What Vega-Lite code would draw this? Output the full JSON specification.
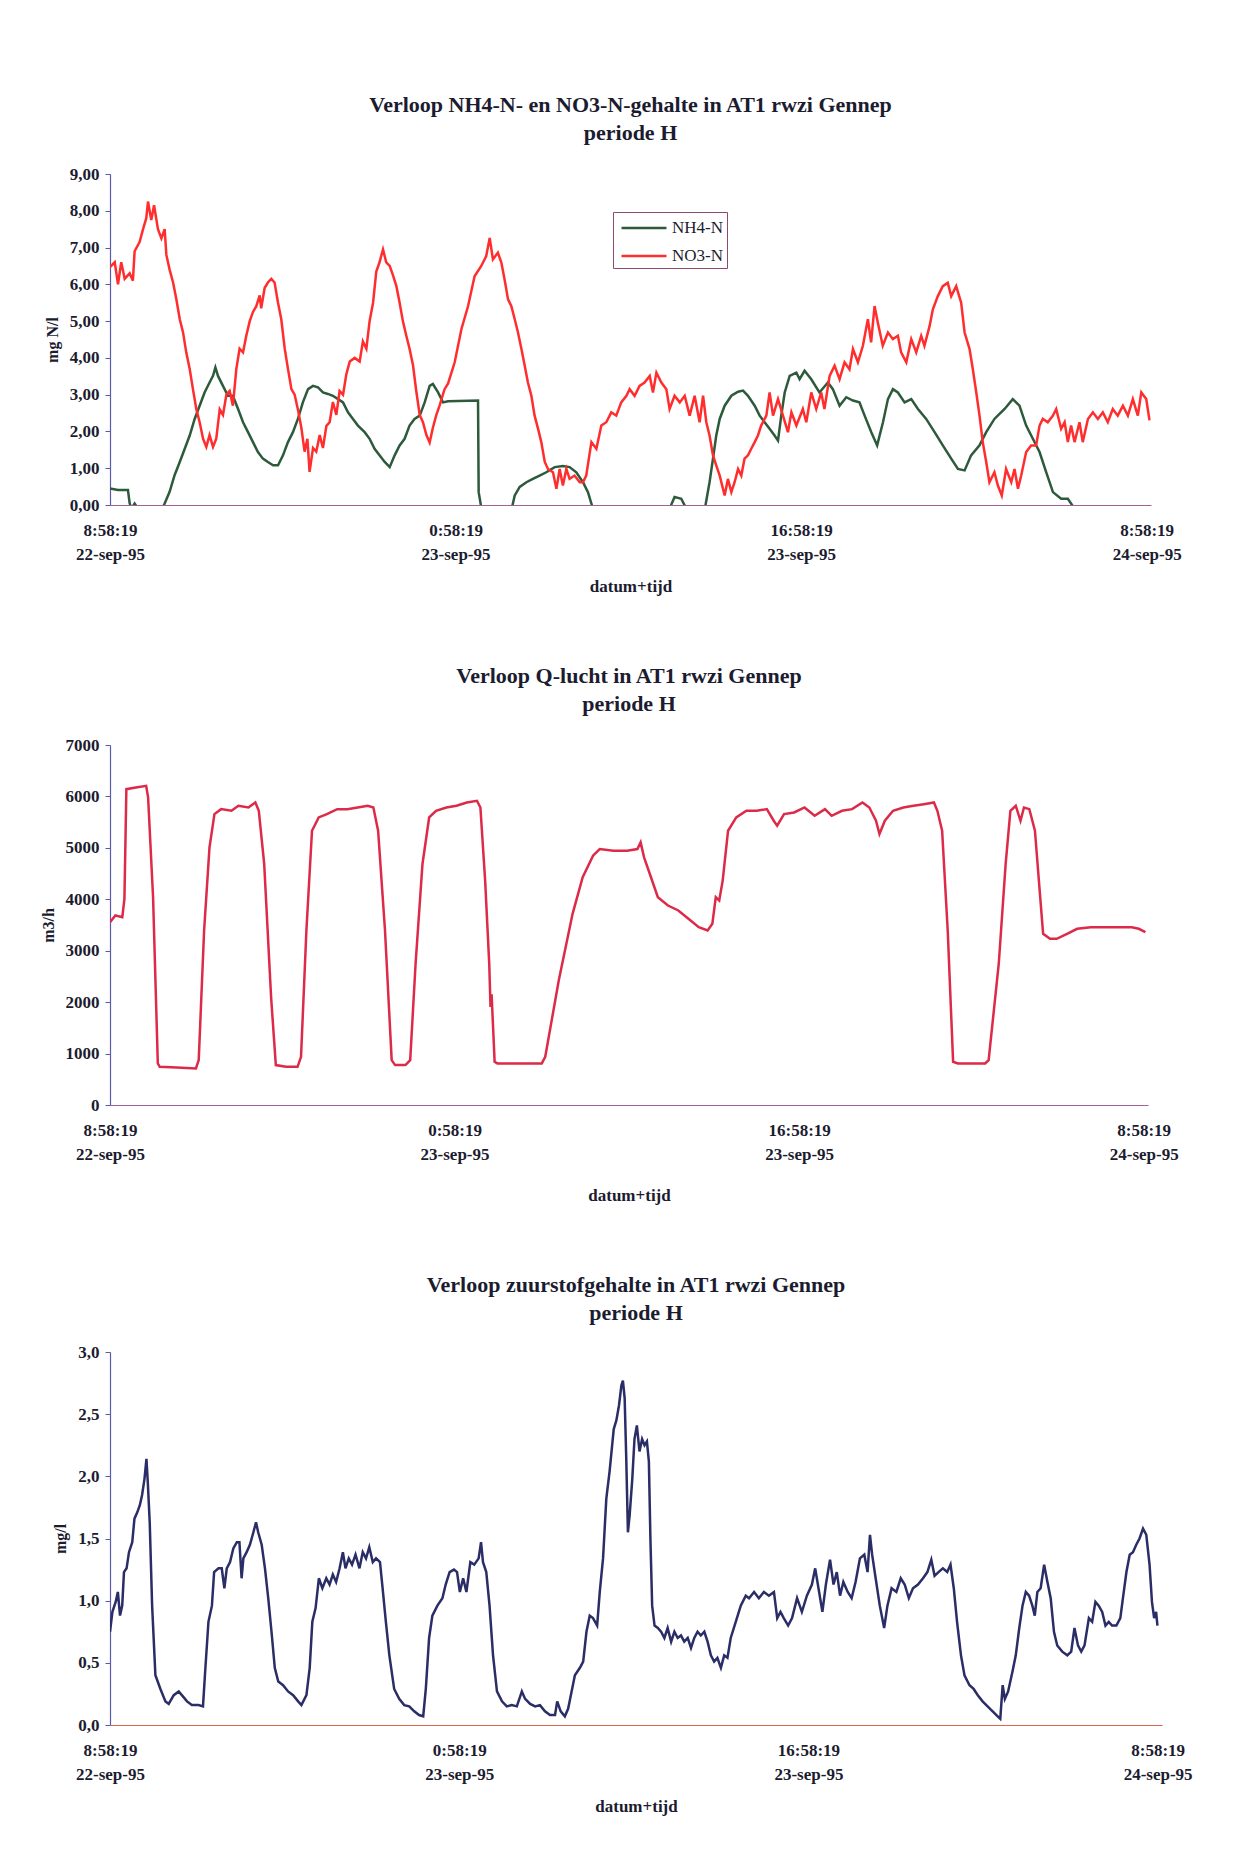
{
  "$schema": "https://vega.github.io/schema/vega-lite/v6.json",
  "background": "white",
  "padding": {"left": 40, "top": 94, "right": 10, "bottom": 10},
  "spacing": 71,
  "config": {
    "font": "Liberation Serif",
    "view": {"stroke": null},
    "axis": {
      "grid": false,
      "labelFont": "Liberation Serif",
      "labelFontWeight": "bold",
      "labelFontSize": 17,
      "labelColor": "#1c1c30",
      "labelOverlap": false,
      "titleFont": "Liberation Serif",
      "titleFontWeight": "bold",
      "titleColor": "#1c1c30",
      "domainColor": "#5a5aa8",
      "tickColor": "#5a5aa8",
      "domainWidth": 1.2
    },
    "axisX": {
      "ticks": false,
      "labelPadding": 17,
      "labelLineHeight": 24,
      "labelFlush": false,
      "titleFontSize": 17,
      "titlePadding": 16,
      "domainColor": "#a0609a"
    },
    "axisY": {
      "tickSize": 5,
      "labelPadding": 6,
      "labelOverlap": false,
      "titleFontSize": 16,
      "titlePadding": 9
    },
    "title": {
      "font": "Liberation Serif",
      "fontSize": 22,
      "fontWeight": "bold",
      "color": "#1c1c30",
      "lineHeight": 28,
      "anchor": "middle",
      "offset": 20
    }
  },
  "datasets": {
    "nh4": [
      {"t":0,"v":0.45},{"t":0.37,"v":0.41},{"t":0.83,"v":0.41},{"t":0.91,"v":0.05},{"t":0.99,"v":-0.1},{"t":1.14,"v":0.04},{"t":1.3,"v":-0.1},{"t":1.4,"v":-0.5},{"t":2.3,"v":-0.5},{"t":2.38,"v":-0.15},{"t":2.53,"v":0.04},{"t":2.76,"v":0.36},{"t":2.99,"v":0.81},{"t":3.23,"v":1.17},{"t":3.46,"v":1.53},{"t":3.69,"v":1.89},{"t":3.92,"v":2.34},{"t":4.15,"v":2.7},{"t":4.38,"v":3.06},{"t":4.61,"v":3.33},{"t":4.77,"v":3.51},{"t":4.88,"v":3.74},{"t":5.0,"v":3.51},{"t":5.23,"v":3.24},{"t":5.46,"v":2.97},{"t":5.69,"v":2.97},{"t":5.93,"v":2.61},{"t":6.16,"v":2.25},{"t":6.39,"v":1.98},{"t":6.62,"v":1.71},{"t":6.85,"v":1.44},{"t":7.08,"v":1.26},{"t":7.31,"v":1.17},{"t":7.55,"v":1.08},{"t":7.78,"v":1.08},{"t":8.01,"v":1.35},{"t":8.24,"v":1.71},{"t":8.47,"v":1.98},{"t":8.7,"v":2.34},{"t":8.93,"v":2.79},{"t":9.17,"v":3.15},{"t":9.4,"v":3.24},{"t":9.63,"v":3.2},{"t":9.86,"v":3.06},{"t":10.09,"v":3.02},{"t":10.32,"v":2.97},{"t":10.56,"v":2.88},{"t":10.79,"v":2.79},{"t":11.02,"v":2.52},{"t":11.25,"v":2.34},{"t":11.48,"v":2.16},{"t":11.79,"v":1.98},{"t":12.02,"v":1.8},{"t":12.25,"v":1.53},{"t":12.48,"v":1.35},{"t":12.72,"v":1.17},{"t":12.95,"v":1.03},{"t":13.18,"v":1.35},{"t":13.41,"v":1.62},{"t":13.64,"v":1.8},{"t":13.87,"v":2.16},{"t":14.1,"v":2.34},{"t":14.34,"v":2.43},{"t":14.57,"v":2.79},{"t":14.8,"v":3.24},{"t":14.95,"v":3.29},{"t":15.19,"v":3.06},{"t":15.42,"v":2.79},{"t":15.65,"v":2.82},{"t":17.04,"v":2.84},{"t":17.07,"v":0.35},{"t":17.2,"v":-0.1},{"t":17.3,"v":-0.5},{"t":18.5,"v":-0.5},{"t":18.58,"v":-0.15},{"t":18.74,"v":0.26},{"t":18.97,"v":0.49},{"t":19.28,"v":0.62},{"t":19.58,"v":0.71},{"t":19.89,"v":0.8},{"t":20.2,"v":0.89},{"t":20.59,"v":1.03},{"t":20.97,"v":1.06},{"t":21.28,"v":1.03},{"t":21.59,"v":0.89},{"t":21.9,"v":0.62},{"t":22.13,"v":0.35},{"t":22.36,"v":-0.1},{"t":22.45,"v":-0.5},{"t":25.85,"v":-0.5},{"t":25.91,"v":-0.1},{"t":26.14,"v":0.22},{"t":26.45,"v":0.17},{"t":26.73,"v":-0.15},{"t":26.8,"v":-0.5},{"t":27.45,"v":-0.5},{"t":27.53,"v":-0.15},{"t":27.76,"v":0.62},{"t":27.92,"v":1.26},{"t":28.07,"v":1.89},{"t":28.23,"v":2.34},{"t":28.46,"v":2.7},{"t":28.77,"v":2.97},{"t":29.08,"v":3.08},{"t":29.31,"v":3.11},{"t":29.54,"v":2.97},{"t":29.85,"v":2.7},{"t":30.08,"v":2.43},{"t":30.31,"v":2.25},{"t":30.54,"v":2.07},{"t":30.77,"v":1.89},{"t":30.93,"v":1.75},{"t":31.08,"v":2.43},{"t":31.24,"v":3.06},{"t":31.47,"v":3.51},{"t":31.78,"v":3.6},{"t":31.93,"v":3.42},{"t":32.16,"v":3.65},{"t":32.47,"v":3.42},{"t":32.85,"v":3.06},{"t":33.24,"v":3.33},{"t":33.47,"v":3.15},{"t":33.78,"v":2.7},{"t":34.09,"v":2.93},{"t":34.4,"v":2.84},{"t":34.7,"v":2.79},{"t":34.94,"v":2.43},{"t":35.25,"v":1.98},{"t":35.52,"v":1.62},{"t":35.79,"v":2.25},{"t":36.02,"v":2.88},{"t":36.25,"v":3.15},{"t":36.48,"v":3.06},{"t":36.79,"v":2.79},{"t":37.1,"v":2.88},{"t":37.41,"v":2.61},{"t":37.79,"v":2.34},{"t":38.18,"v":1.98},{"t":38.56,"v":1.62},{"t":38.95,"v":1.26},{"t":39.26,"v":0.98},{"t":39.57,"v":0.94},{"t":39.87,"v":1.35},{"t":40.26,"v":1.62},{"t":40.57,"v":1.98},{"t":40.95,"v":2.34},{"t":41.42,"v":2.61},{"t":41.8,"v":2.88},{"t":42.11,"v":2.7},{"t":42.42,"v":2.16},{"t":42.73,"v":1.8},{"t":43.04,"v":1.44},{"t":43.35,"v":0.89},{"t":43.66,"v":0.35},{"t":44.04,"v":0.17},{"t":44.35,"v":0.17},{"t":44.66,"v":-0.1}
    ],
    "no3": [
      {"t":0,"v":6.47},{"t":0.22,"v":6.6},{"t":0.37,"v":6.0},{"t":0.52,"v":6.6},{"t":0.68,"v":6.15},{"t":0.91,"v":6.3},{"t":1.06,"v":6.1},{"t":1.14,"v":6.9},{"t":1.37,"v":7.15},{"t":1.53,"v":7.5},{"t":1.68,"v":7.8},{"t":1.76,"v":8.25},{"t":1.91,"v":7.75},{"t":2.04,"v":8.15},{"t":2.22,"v":7.5},{"t":2.38,"v":7.25},{"t":2.53,"v":7.5},{"t":2.61,"v":6.8},{"t":2.76,"v":6.4},{"t":2.92,"v":6.05},{"t":3.07,"v":5.6},{"t":3.23,"v":5.05},{"t":3.38,"v":4.7},{"t":3.53,"v":4.15},{"t":3.69,"v":3.7},{"t":3.84,"v":3.15},{"t":4.0,"v":2.6},{"t":4.15,"v":2.25},{"t":4.31,"v":1.8},{"t":4.46,"v":1.58},{"t":4.61,"v":1.9},{"t":4.77,"v":1.58},{"t":4.92,"v":1.8},{"t":5.08,"v":2.6},{"t":5.23,"v":2.45},{"t":5.39,"v":3.0},{"t":5.54,"v":3.1},{"t":5.69,"v":2.7},{"t":5.85,"v":3.7},{"t":6.0,"v":4.25},{"t":6.16,"v":4.15},{"t":6.31,"v":4.6},{"t":6.47,"v":5.0},{"t":6.62,"v":5.25},{"t":6.77,"v":5.4},{"t":6.93,"v":5.7},{"t":7.0,"v":5.35},{"t":7.16,"v":5.9},{"t":7.31,"v":6.05},{"t":7.47,"v":6.15},{"t":7.62,"v":6.05},{"t":7.78,"v":5.5},{"t":7.93,"v":5.05},{"t":8.09,"v":4.25},{"t":8.24,"v":3.7},{"t":8.4,"v":3.15},{"t":8.55,"v":3.0},{"t":8.7,"v":2.6},{"t":8.86,"v":2.1},{"t":9.01,"v":1.45},{"t":9.14,"v":1.8},{"t":9.24,"v":0.9},{"t":9.4,"v":1.55},{"t":9.55,"v":1.45},{"t":9.71,"v":1.9},{"t":9.86,"v":1.55},{"t":10.02,"v":2.15},{"t":10.17,"v":2.25},{"t":10.32,"v":2.8},{"t":10.48,"v":2.45},{"t":10.63,"v":3.1},{"t":10.79,"v":3.0},{"t":10.94,"v":3.55},{"t":11.1,"v":3.9},{"t":11.33,"v":4.0},{"t":11.56,"v":3.9},{"t":11.71,"v":4.45},{"t":11.87,"v":4.25},{"t":12.02,"v":5.0},{"t":12.18,"v":5.5},{"t":12.33,"v":6.35},{"t":12.48,"v":6.6},{"t":12.64,"v":6.95},{"t":12.79,"v":6.6},{"t":12.95,"v":6.5},{"t":13.1,"v":6.25},{"t":13.26,"v":5.95},{"t":13.41,"v":5.5},{"t":13.56,"v":5.0},{"t":13.72,"v":4.6},{"t":13.87,"v":4.25},{"t":14.03,"v":3.8},{"t":14.18,"v":3.1},{"t":14.34,"v":2.45},{"t":14.49,"v":2.25},{"t":14.65,"v":1.9},{"t":14.8,"v":1.7},{"t":14.95,"v":2.1},{"t":15.11,"v":2.45},{"t":15.26,"v":2.7},{"t":15.49,"v":3.15},{"t":15.65,"v":3.3},{"t":15.96,"v":3.88},{"t":16.27,"v":4.78},{"t":16.58,"v":5.41},{"t":16.88,"v":6.22},{"t":17.19,"v":6.5},{"t":17.42,"v":6.77},{"t":17.58,"v":7.26},{"t":17.73,"v":6.68},{"t":17.96,"v":6.86},{"t":18.12,"v":6.59},{"t":18.27,"v":6.13},{"t":18.43,"v":5.59},{"t":18.58,"v":5.41},{"t":18.74,"v":5.05},{"t":18.89,"v":4.69},{"t":19.05,"v":4.24},{"t":19.2,"v":3.79},{"t":19.35,"v":3.33},{"t":19.51,"v":2.97},{"t":19.66,"v":2.43},{"t":19.82,"v":2.07},{"t":19.97,"v":1.71},{"t":20.13,"v":1.17},{"t":20.28,"v":0.98},{"t":20.51,"v":0.89},{"t":20.67,"v":0.44},{"t":20.82,"v":0.98},{"t":20.97,"v":0.53},{"t":21.13,"v":0.98},{"t":21.28,"v":0.71},{"t":21.51,"v":0.8},{"t":21.75,"v":0.62},{"t":21.9,"v":0.62},{"t":22.05,"v":0.8},{"t":22.29,"v":1.71},{"t":22.52,"v":1.53},{"t":22.75,"v":2.16},{"t":22.98,"v":2.25},{"t":23.21,"v":2.52},{"t":23.44,"v":2.43},{"t":23.67,"v":2.79},{"t":23.91,"v":2.97},{"t":24.06,"v":3.15},{"t":24.29,"v":2.97},{"t":24.52,"v":3.24},{"t":24.75,"v":3.33},{"t":24.99,"v":3.51},{"t":25.14,"v":3.06},{"t":25.3,"v":3.6},{"t":25.53,"v":3.33},{"t":25.76,"v":3.15},{"t":25.91,"v":2.61},{"t":26.14,"v":2.97},{"t":26.38,"v":2.79},{"t":26.61,"v":2.97},{"t":26.84,"v":2.43},{"t":27.07,"v":2.97},{"t":27.3,"v":2.25},{"t":27.46,"v":2.97},{"t":27.61,"v":2.25},{"t":27.76,"v":1.89},{"t":27.92,"v":1.35},{"t":28.07,"v":1.08},{"t":28.23,"v":0.8},{"t":28.46,"v":0.26},{"t":28.61,"v":0.71},{"t":28.77,"v":0.35},{"t":28.92,"v":0.62},{"t":29.08,"v":0.98},{"t":29.23,"v":0.8},{"t":29.38,"v":1.26},{"t":29.54,"v":1.35},{"t":29.69,"v":1.53},{"t":29.85,"v":1.71},{"t":30.0,"v":1.89},{"t":30.15,"v":2.16},{"t":30.39,"v":2.43},{"t":30.54,"v":3.06},{"t":30.7,"v":2.43},{"t":30.93,"v":2.88},{"t":31.16,"v":2.43},{"t":31.39,"v":1.98},{"t":31.55,"v":2.52},{"t":31.78,"v":2.16},{"t":32.08,"v":2.61},{"t":32.24,"v":2.25},{"t":32.47,"v":3.06},{"t":32.7,"v":2.61},{"t":32.93,"v":3.06},{"t":33.08,"v":2.61},{"t":33.32,"v":3.51},{"t":33.55,"v":3.79},{"t":33.78,"v":3.42},{"t":34.01,"v":3.88},{"t":34.24,"v":3.69},{"t":34.4,"v":4.24},{"t":34.63,"v":3.88},{"t":34.86,"v":4.33},{"t":35.09,"v":5.05},{"t":35.24,"v":4.42},{"t":35.4,"v":5.41},{"t":35.55,"v":4.96},{"t":35.78,"v":4.33},{"t":36.02,"v":4.69},{"t":36.25,"v":4.51},{"t":36.48,"v":4.6},{"t":36.63,"v":4.15},{"t":36.87,"v":3.88},{"t":37.1,"v":4.51},{"t":37.33,"v":4.15},{"t":37.56,"v":4.6},{"t":37.71,"v":4.33},{"t":37.95,"v":4.87},{"t":38.1,"v":5.32},{"t":38.33,"v":5.68},{"t":38.56,"v":5.95},{"t":38.79,"v":6.04},{"t":38.95,"v":5.68},{"t":39.18,"v":5.95},{"t":39.41,"v":5.5},{"t":39.57,"v":4.69},{"t":39.8,"v":4.24},{"t":39.95,"v":3.69},{"t":40.11,"v":3.06},{"t":40.26,"v":2.43},{"t":40.41,"v":1.71},{"t":40.57,"v":1.17},{"t":40.72,"v":0.62},{"t":40.95,"v":0.89},{"t":41.11,"v":0.53},{"t":41.29,"v":0.26},{"t":41.49,"v":0.98},{"t":41.73,"v":0.62},{"t":41.88,"v":0.98},{"t":42.04,"v":0.44},{"t":42.19,"v":0.8},{"t":42.42,"v":1.44},{"t":42.65,"v":1.62},{"t":42.88,"v":1.62},{"t":43.04,"v":2.16},{"t":43.19,"v":2.34},{"t":43.42,"v":2.25},{"t":43.66,"v":2.43},{"t":43.81,"v":2.61},{"t":44.04,"v":2.07},{"t":44.2,"v":2.25},{"t":44.35,"v":1.71},{"t":44.5,"v":2.16},{"t":44.66,"v":1.71},{"t":44.89,"v":2.25},{"t":45.04,"v":1.71},{"t":45.28,"v":2.34},{"t":45.51,"v":2.52},{"t":45.74,"v":2.34},{"t":45.97,"v":2.52},{"t":46.2,"v":2.25},{"t":46.43,"v":2.61},{"t":46.66,"v":2.43},{"t":46.9,"v":2.7},{"t":47.13,"v":2.43},{"t":47.36,"v":2.88},{"t":47.59,"v":2.43},{"t":47.75,"v":3.06},{"t":47.98,"v":2.88},{"t":48.13,"v":2.3}
    ],
    "qlucht": [
      {"t":0,"v":3555},{"t":0.25,"v":3685},{"t":0.57,"v":3650},{"t":0.67,"v":4008},{"t":0.76,"v":6141},{"t":1.2,"v":6173},{"t":1.68,"v":6206},{"t":1.77,"v":5979},{"t":2.0,"v":4040},{"t":2.22,"v":808},{"t":2.31,"v":743},{"t":3.1,"v":730},{"t":3.99,"v":711},{"t":4.12,"v":873},{"t":4.37,"v":3394},{"t":4.62,"v":5010},{"t":4.85,"v":5656},{"t":5.16,"v":5753},{"t":5.64,"v":5721},{"t":5.96,"v":5818},{"t":6.43,"v":5785},{"t":6.75,"v":5882},{"t":6.91,"v":5721},{"t":7.16,"v":4687},{"t":7.48,"v":2101},{"t":7.7,"v":776},{"t":8.17,"v":743},{"t":8.71,"v":743},{"t":8.87,"v":937},{"t":9.12,"v":3394},{"t":9.38,"v":5333},{"t":9.69,"v":5591},{"t":10.07,"v":5656},{"t":10.55,"v":5753},{"t":11.02,"v":5753},{"t":11.5,"v":5785},{"t":11.97,"v":5818},{"t":12.23,"v":5785},{"t":12.45,"v":5333},{"t":12.77,"v":3394},{"t":13.08,"v":873},{"t":13.24,"v":776},{"t":13.72,"v":776},{"t":13.94,"v":873},{"t":14.19,"v":2747},{"t":14.51,"v":4687},{"t":14.82,"v":5591},{"t":15.14,"v":5721},{"t":15.62,"v":5785},{"t":16.09,"v":5818},{"t":16.57,"v":5882},{"t":17.04,"v":5915},{"t":17.2,"v":5785},{"t":17.42,"v":4363},{"t":17.61,"v":2747},{"t":17.67,"v":1907},{"t":17.72,"v":2150},{"t":17.86,"v":840},{"t":17.99,"v":808},{"t":18.94,"v":808},{"t":20.05,"v":808},{"t":20.21,"v":937},{"t":20.84,"v":2424},{"t":21.48,"v":3717},{"t":21.95,"v":4428},{"t":22.43,"v":4848},{"t":22.74,"v":4977},{"t":23.38,"v":4945},{"t":24.01,"v":4945},{"t":24.49,"v":4977},{"t":24.64,"v":5107},{"t":24.8,"v":4816},{"t":25.12,"v":4428},{"t":25.44,"v":4040},{"t":25.91,"v":3879},{"t":26.39,"v":3782},{"t":26.86,"v":3620},{"t":27.34,"v":3458},{"t":27.75,"v":3394},{"t":27.97,"v":3523},{"t":28.13,"v":4040},{"t":28.29,"v":3975},{"t":28.45,"v":4363},{"t":28.7,"v":5333},{"t":29.08,"v":5591},{"t":29.55,"v":5721},{"t":30.03,"v":5721},{"t":30.5,"v":5753},{"t":30.82,"v":5527},{"t":30.98,"v":5430},{"t":31.3,"v":5656},{"t":31.77,"v":5688},{"t":32.25,"v":5785},{"t":32.72,"v":5624},{"t":33.2,"v":5753},{"t":33.51,"v":5624},{"t":33.99,"v":5721},{"t":34.46,"v":5753},{"t":34.94,"v":5882},{"t":35.26,"v":5785},{"t":35.57,"v":5527},{"t":35.73,"v":5268},{"t":35.98,"v":5527},{"t":36.36,"v":5721},{"t":36.84,"v":5785},{"t":37.31,"v":5818},{"t":37.79,"v":5850},{"t":38.26,"v":5882},{"t":38.42,"v":5721},{"t":38.64,"v":5333},{"t":38.9,"v":3394},{"t":39.15,"v":840},{"t":39.37,"v":808},{"t":40.01,"v":808},{"t":40.64,"v":808},{"t":40.8,"v":873},{"t":41.27,"v":2747},{"t":41.59,"v":4687},{"t":41.81,"v":5721},{"t":42.06,"v":5818},{"t":42.28,"v":5527},{"t":42.44,"v":5785},{"t":42.69,"v":5753},{"t":42.95,"v":5333},{"t":43.17,"v":4169},{"t":43.33,"v":3329},{"t":43.65,"v":3232},{"t":43.96,"v":3232},{"t":44.44,"v":3329},{"t":44.91,"v":3426},{"t":45.54,"v":3458},{"t":46.18,"v":3458},{"t":46.81,"v":3458},{"t":47.45,"v":3458},{"t":47.77,"v":3426},{"t":48.08,"v":3361}
    ],
    "zuurstof": [
      {"t":0,"v":0.75},{"t":0.11,"v":0.91},{"t":0.26,"v":0.99},{"t":0.36,"v":1.07},{"t":0.46,"v":0.88},{"t":0.56,"v":0.96},{"t":0.64,"v":1.23},{"t":0.76,"v":1.26},{"t":0.87,"v":1.39},{"t":1.02,"v":1.47},{"t":1.12,"v":1.66},{"t":1.25,"v":1.71},{"t":1.37,"v":1.77},{"t":1.47,"v":1.85},{"t":1.58,"v":1.98},{"t":1.67,"v":2.14},{"t":1.73,"v":1.96},{"t":1.82,"v":1.63},{"t":1.93,"v":0.96},{"t":2.08,"v":0.4},{"t":2.31,"v":0.29},{"t":2.54,"v":0.19},{"t":2.69,"v":0.17},{"t":2.92,"v":0.24},{"t":3.15,"v":0.27},{"t":3.34,"v":0.23},{"t":3.53,"v":0.19},{"t":3.75,"v":0.16},{"t":4.06,"v":0.16},{"t":4.26,"v":0.15},{"t":4.36,"v":0.43},{"t":4.51,"v":0.83},{"t":4.67,"v":0.96},{"t":4.77,"v":1.23},{"t":4.97,"v":1.26},{"t":5.12,"v":1.26},{"t":5.24,"v":1.1},{"t":5.35,"v":1.26},{"t":5.5,"v":1.31},{"t":5.65,"v":1.42},{"t":5.81,"v":1.47},{"t":5.93,"v":1.47},{"t":6.03,"v":1.18},{"t":6.11,"v":1.34},{"t":6.26,"v":1.39},{"t":6.41,"v":1.45},{"t":6.57,"v":1.55},{"t":6.69,"v":1.63},{"t":6.79,"v":1.55},{"t":6.95,"v":1.45},{"t":7.1,"v":1.26},{"t":7.25,"v":1.02},{"t":7.4,"v":0.75},{"t":7.55,"v":0.46},{"t":7.71,"v":0.35},{"t":7.93,"v":0.32},{"t":8.16,"v":0.27},{"t":8.39,"v":0.24},{"t":8.62,"v":0.19},{"t":8.77,"v":0.16},{"t":9.0,"v":0.24},{"t":9.15,"v":0.46},{"t":9.27,"v":0.83},{"t":9.42,"v":0.94},{"t":9.57,"v":1.18},{"t":9.73,"v":1.1},{"t":9.91,"v":1.18},{"t":10.06,"v":1.13},{"t":10.21,"v":1.21},{"t":10.36,"v":1.15},{"t":10.52,"v":1.26},{"t":10.67,"v":1.39},{"t":10.79,"v":1.26},{"t":10.94,"v":1.34},{"t":11.09,"v":1.29},{"t":11.25,"v":1.37},{"t":11.43,"v":1.26},{"t":11.58,"v":1.39},{"t":11.73,"v":1.34},{"t":11.88,"v":1.43},{"t":12.04,"v":1.31},{"t":12.19,"v":1.34},{"t":12.37,"v":1.31},{"t":12.49,"v":1.1},{"t":12.64,"v":0.83},{"t":12.8,"v":0.56},{"t":13.02,"v":0.29},{"t":13.25,"v":0.21},{"t":13.48,"v":0.16},{"t":13.71,"v":0.15},{"t":13.94,"v":0.11},{"t":14.16,"v":0.08},{"t":14.35,"v":0.07},{"t":14.47,"v":0.29},{"t":14.62,"v":0.7},{"t":14.77,"v":0.88},{"t":15.0,"v":0.96},{"t":15.23,"v":1.02},{"t":15.38,"v":1.13},{"t":15.56,"v":1.23},{"t":15.76,"v":1.25},{"t":15.9,"v":1.23},{"t":16.03,"v":1.07},{"t":16.18,"v":1.18},{"t":16.33,"v":1.07},{"t":16.51,"v":1.31},{"t":16.69,"v":1.29},{"t":16.89,"v":1.34},{"t":17.0,"v":1.47},{"t":17.09,"v":1.31},{"t":17.24,"v":1.23},{"t":17.39,"v":0.96},{"t":17.55,"v":0.56},{"t":17.73,"v":0.27},{"t":17.96,"v":0.19},{"t":18.18,"v":0.15},{"t":18.41,"v":0.16},{"t":18.64,"v":0.15},{"t":18.87,"v":0.27},{"t":19.02,"v":0.21},{"t":19.25,"v":0.17},{"t":19.48,"v":0.15},{"t":19.7,"v":0.16},{"t":19.93,"v":0.11},{"t":20.16,"v":0.08},{"t":20.39,"v":0.08},{"t":20.49,"v":0.19},{"t":20.65,"v":0.11},{"t":20.84,"v":0.07},{"t":20.99,"v":0.13},{"t":21.15,"v":0.27},{"t":21.3,"v":0.4},{"t":21.53,"v":0.46},{"t":21.68,"v":0.51},{"t":21.83,"v":0.75},{"t":21.98,"v":0.88},{"t":22.13,"v":0.86},{"t":22.32,"v":0.8},{"t":22.44,"v":1.07},{"t":22.59,"v":1.34},{"t":22.74,"v":1.82},{"t":22.89,"v":2.04},{"t":23.08,"v":2.38},{"t":23.2,"v":2.45},{"t":23.32,"v":2.57},{"t":23.43,"v":2.73},{"t":23.5,"v":2.77},{"t":23.58,"v":2.63},{"t":23.65,"v":2.17},{"t":23.73,"v":1.55},{"t":23.81,"v":1.69},{"t":23.93,"v":1.98},{"t":24.03,"v":2.3},{"t":24.14,"v":2.41},{"t":24.26,"v":2.2},{"t":24.38,"v":2.3},{"t":24.49,"v":2.25},{"t":24.6,"v":2.28},{"t":24.69,"v":2.12},{"t":24.76,"v":1.5},{"t":24.84,"v":0.96},{"t":24.95,"v":0.8},{"t":25.1,"v":0.78},{"t":25.25,"v":0.75},{"t":25.4,"v":0.7},{"t":25.55,"v":0.78},{"t":25.71,"v":0.67},{"t":25.86,"v":0.75},{"t":26.01,"v":0.7},{"t":26.16,"v":0.72},{"t":26.31,"v":0.67},{"t":26.47,"v":0.7},{"t":26.62,"v":0.62},{"t":26.77,"v":0.7},{"t":26.92,"v":0.75},{"t":27.07,"v":0.72},{"t":27.23,"v":0.75},{"t":27.38,"v":0.67},{"t":27.53,"v":0.56},{"t":27.68,"v":0.51},{"t":27.83,"v":0.54},{"t":27.99,"v":0.46},{"t":28.14,"v":0.56},{"t":28.29,"v":0.54},{"t":28.44,"v":0.7},{"t":28.67,"v":0.83},{"t":28.9,"v":0.96},{"t":29.13,"v":1.04},{"t":29.28,"v":1.02},{"t":29.51,"v":1.07},{"t":29.73,"v":1.02},{"t":29.96,"v":1.07},{"t":30.19,"v":1.04},{"t":30.42,"v":1.07},{"t":30.57,"v":0.86},{"t":30.72,"v":0.91},{"t":30.87,"v":0.86},{"t":31.07,"v":0.8},{"t":31.25,"v":0.86},{"t":31.48,"v":1.02},{"t":31.7,"v":0.91},{"t":31.93,"v":1.04},{"t":32.16,"v":1.13},{"t":32.31,"v":1.26},{"t":32.49,"v":1.07},{"t":32.64,"v":0.91},{"t":32.8,"v":1.13},{"t":32.99,"v":1.33},{"t":33.15,"v":1.13},{"t":33.3,"v":1.23},{"t":33.45,"v":1.04},{"t":33.6,"v":1.15},{"t":33.8,"v":1.07},{"t":33.98,"v":1.02},{"t":34.16,"v":1.15},{"t":34.36,"v":1.34},{"t":34.56,"v":1.37},{"t":34.71,"v":1.23},{"t":34.82,"v":1.53},{"t":34.92,"v":1.37},{"t":35.08,"v":1.18},{"t":35.27,"v":0.96},{"t":35.47,"v":0.78},{"t":35.62,"v":0.96},{"t":35.81,"v":1.1},{"t":36.03,"v":1.07},{"t":36.23,"v":1.18},{"t":36.41,"v":1.13},{"t":36.6,"v":1.02},{"t":36.79,"v":1.1},{"t":37.02,"v":1.13},{"t":37.25,"v":1.18},{"t":37.45,"v":1.23},{"t":37.63,"v":1.33},{"t":37.78,"v":1.2},{"t":37.96,"v":1.23},{"t":38.16,"v":1.26},{"t":38.36,"v":1.23},{"t":38.51,"v":1.29},{"t":38.66,"v":1.1},{"t":38.81,"v":0.83},{"t":38.99,"v":0.56},{"t":39.15,"v":0.4},{"t":39.38,"v":0.32},{"t":39.57,"v":0.29},{"t":39.76,"v":0.24},{"t":39.98,"v":0.19},{"t":40.21,"v":0.15},{"t":40.44,"v":0.11},{"t":40.67,"v":0.07},{"t":40.79,"v":0.05},{"t":40.9,"v":0.32},{"t":41.0,"v":0.21},{"t":41.15,"v":0.27},{"t":41.35,"v":0.43},{"t":41.5,"v":0.56},{"t":41.66,"v":0.78},{"t":41.81,"v":0.96},{"t":41.96,"v":1.07},{"t":42.11,"v":1.04},{"t":42.26,"v":0.96},{"t":42.37,"v":0.88},{"t":42.49,"v":1.07},{"t":42.64,"v":1.1},{"t":42.8,"v":1.29},{"t":42.95,"v":1.15},{"t":43.1,"v":1.02},{"t":43.25,"v":0.75},{"t":43.4,"v":0.64},{"t":43.63,"v":0.59},{"t":43.86,"v":0.56},{"t":44.04,"v":0.59},{"t":44.19,"v":0.78},{"t":44.35,"v":0.64},{"t":44.5,"v":0.59},{"t":44.65,"v":0.64},{"t":44.85,"v":0.86},{"t":45.0,"v":0.83},{"t":45.15,"v":0.99},{"t":45.3,"v":0.96},{"t":45.46,"v":0.91},{"t":45.61,"v":0.8},{"t":45.76,"v":0.83},{"t":45.91,"v":0.8},{"t":46.11,"v":0.8},{"t":46.29,"v":0.86},{"t":46.41,"v":1.02},{"t":46.57,"v":1.23},{"t":46.72,"v":1.37},{"t":46.87,"v":1.39},{"t":47.02,"v":1.45},{"t":47.17,"v":1.5},{"t":47.33,"v":1.58},{"t":47.48,"v":1.53},{"t":47.63,"v":1.29},{"t":47.74,"v":0.99},{"t":47.84,"v":0.86},{"t":47.93,"v":0.91},{"t":47.99,"v":0.8}
    ]
  },
  "vconcat": [
    {
      "width": 1041,
      "height": 331,
      "title": {"text": ["Verloop NH4-N- en NO3-N-gehalte in AT1 rwzi Gennep", "periode H"]},
      "encoding": {
        "x": {"field": "t", "type": "quantitative", "scale": {"domain": [0, 48.2], "nice": false, "zero": false},
              "axis": {"values": [0, 16, 32, 48], "title": "datum+tijd",
                       "labelExpr": "datum.value == 0 ? ['8:58:19', '22-sep-95'] : datum.value == 16 ? ['0:58:19', '23-sep-95'] : datum.value == 32 ? ['16:58:19', '23-sep-95'] : ['8:58:19', '24-sep-95']"}},
        "y": {"field": "v", "type": "quantitative", "scale": {"domain": [0, 9], "nice": false},
              "axis": {"values": [0, 1, 2, 3, 4, 5, 6, 7, 8, 9], "title": "mg N/l", "labelOverlap": false,
                       "labelExpr": "replace(format(datum.value, '.2f'), '.', ',')"}}
      },
      "layer": [
        {
          "data": {"name": "nh4"},
          "mark": {"type": "line", "strokeWidth": 2.5, "clip": true},
          "encoding": {
            "color": {"datum": "NH4-N", "type": "nominal",
                      "scale": {"domain": ["NH4-N", "NO3-N"], "range": ["#2e5a3c", "#ff2d2d"]},
                      "legend": {"title": null, "orient": "none", "legendX": 503, "legendY": 38,
                                 "strokeColor": "#8c4a70", "fillColor": "white", "padding": 4,
                                 "symbolType": "M-0.714,0H3.571", "symbolSize": 441, "symbolStrokeWidth": 2.5,
                                 "labelFont": "Liberation Serif", "labelFontSize": 17, "labelFontWeight": "normal",
                                 "labelColor": "#1c1c30", "rowPadding": 8, "labelOffset": 31}}
          }
        },
        {
          "data": {"name": "no3"},
          "mark": {"type": "line", "strokeWidth": 2.5, "clip": true},
          "encoding": {
            "color": {"datum": "NO3-N", "type": "nominal"}
          }
        }
      ]
    },
    {
      "width": 1038,
      "height": 360,
      "title": {"text": ["Verloop Q-lucht in AT1 rwzi Gennep", "periode H"]},
      "data": {"name": "qlucht"},
      "mark": {"type": "line", "strokeWidth": 2.5, "color": "#dc2a48", "clip": true},
      "encoding": {
        "x": {"field": "t", "type": "quantitative", "scale": {"domain": [0, 48.2], "nice": false, "zero": false},
              "axis": {"values": [0, 16, 32, 48], "title": "datum+tijd", "titlePadding": 25,
                       "labelExpr": "datum.value == 0 ? ['8:58:19', '22-sep-95'] : datum.value == 16 ? ['0:58:19', '23-sep-95'] : datum.value == 32 ? ['16:58:19', '23-sep-95'] : ['8:58:19', '24-sep-95']"}},
        "y": {"field": "v", "type": "quantitative", "scale": {"domain": [0, 7000], "nice": false},
              "axis": {"values": [0, 1000, 2000, 3000, 4000, 5000, 6000, 7000], "title": "m3/h", "format": "d", "labelOverlap": false}}
      }
    },
    {
      "width": 1052,
      "height": 373,
      "title": {"text": ["Verloop zuurstofgehalte in AT1 rwzi Gennep", "periode H"], "offset": 18},
      "data": {"name": "zuurstof"},
      "mark": {"type": "line", "strokeWidth": 2.5, "color": "#2a2d66", "clip": true},
      "encoding": {
        "x": {"field": "t", "type": "quantitative", "scale": {"domain": [0, 48.2], "nice": false, "zero": false},
              "axis": {"values": [0, 16, 32, 48], "title": "datum+tijd", "domainColor": "#d8684a",
                       "labelExpr": "datum.value == 0 ? ['8:58:19', '22-sep-95'] : datum.value == 16 ? ['0:58:19', '23-sep-95'] : datum.value == 32 ? ['16:58:19', '23-sep-95'] : ['8:58:19', '24-sep-95']"}},
        "y": {"field": "v", "type": "quantitative", "scale": {"domain": [0, 3], "nice": false},
              "axis": {"values": [0, 0.5, 1, 1.5, 2, 2.5, 3], "title": "mg/l", "labelOverlap": false,
                       "labelExpr": "replace(format(datum.value, '.1f'), '.', ',')"}}
      }
    }
  ]
}
